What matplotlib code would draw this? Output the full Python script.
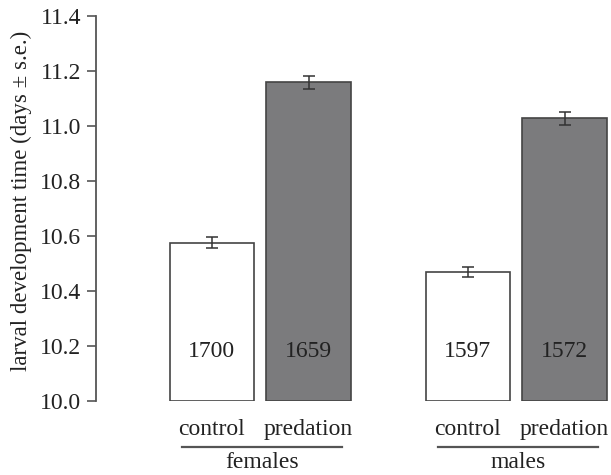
import matplotlib.pyplot as plt
import numpy as np

plt.rcParams['font.family'] = ['Liberation Serif', 'DejaVu Serif']

# data
groups = ['females', 'males']
treatments = ['control', 'predation']
means = [10.575, 11.160, 10.470, 11.028]
errors = [0.020, 0.024, 0.018, 0.023]
counts = ['1700', '1659', '1597', '1572']
yticks = [10.0, 10.2, 10.4, 10.6, 10.8, 11.0, 11.2, 11.4]

# bar layout (two bars per group)
xpos = np.array([0, 1.15, 3.04, 4.19])
colors = ['white', '#7b7b7d', 'white', '#7b7b7d']

fig = plt.figure(figsize=(6.11, 4.75), dpi=100)
ax = fig.add_axes([0.157, 0.156, 0.84, 0.81])

ax.bar(xpos, [m - 10.0 for m in means], bottom=10.0, width=1.0,
       color=colors, edgecolor='#444444', linewidth=1.2, zorder=2)
ax.errorbar(xpos, means, yerr=errors, fmt='none', ecolor='#333333',
            elinewidth=1.1, capsize=4, capthick=1.1, zorder=3)

# sample sizes inside bars
for x, c in zip(xpos, counts):
    ax.text(x, 10.18, c, ha='center', va='center', fontsize=17, color='#222222')

ax.set_xlim(-1.375, 4.72)
ax.set_ylim(10.0, 11.4)
ax.set_yticks(yticks)
ax.set_yticklabels([f'{t:.1f}' for t in yticks], fontsize=17, color='#222222')
ax.tick_params(axis='y', length=6.5, width=1.2, color='#555555', pad=4)
ax.set_xticks([])
for s in ['top', 'right', 'bottom']:
    ax.spines[s].set_visible(False)
ax.spines['left'].set_color('#555555')
ax.spines['left'].set_linewidth(1.3)
ax.set_ylabel('larval development time (days \u00b1 s.e.)', fontsize=16.5,
              color='#222222', va='center')
ax.yaxis.set_label_coords(-0.146, 0.52)

# treatment and group labels under the bars
trans = ax.get_xaxis_transform()
for i, x in enumerate(xpos):
    ax.text(x, -0.075, treatments[i % 2], transform=trans, ha='center',
            va='center', fontsize=17, color='#222222')
for g, name in enumerate(groups):
    x0 = xpos[2 * g] - 0.35
    x1 = xpos[2 * g + 1] + 0.4
    ax.plot([x0, x1], [-0.12, -0.12], transform=trans, color='#555555',
            linewidth=1.6, clip_on=False)
    ax.text((x0 + x1) / 2, -0.16, name, transform=trans, ha='center',
            va='center', fontsize=17, color='#222222')

fig.savefig('out.png', dpi=100)
